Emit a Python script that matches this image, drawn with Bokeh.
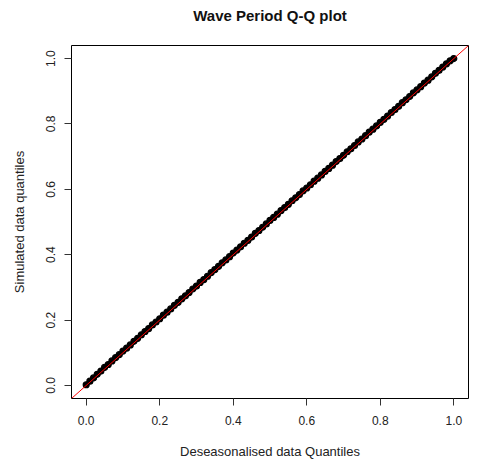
from bokeh.plotting import figure
from bokeh.models import Range1d, Slope, FixedTicker, PrintfTickFormatter, Title
from bokeh.embed import file_html
from bokeh.resources import INLINE

title_text = "Wave Period Q-Q plot"
x_label = "Deseasonalised data Quantiles"
y_label = "Simulated data quantiles"
tick_values = [0.0, 0.2, 0.4, 0.6, 0.8, 1.0]

qx = [0.000, 0.010, 0.020, 0.030, 0.040, 0.050, 0.060, 0.070, 0.080, 0.090,
      0.100, 0.110, 0.120, 0.130, 0.140, 0.150, 0.160, 0.170, 0.180, 0.190,
      0.200, 0.210, 0.220, 0.230, 0.240, 0.250, 0.260, 0.270, 0.280, 0.290,
      0.300, 0.310, 0.320, 0.330, 0.340, 0.350, 0.360, 0.370, 0.380, 0.390,
      0.400, 0.410, 0.420, 0.430, 0.440, 0.450, 0.460, 0.470, 0.480, 0.490,
      0.500, 0.510, 0.520, 0.530, 0.540, 0.550, 0.560, 0.570, 0.580, 0.590,
      0.600, 0.610, 0.620, 0.630, 0.640, 0.650, 0.660, 0.670, 0.680, 0.690,
      0.700, 0.710, 0.720, 0.730, 0.740, 0.750, 0.760, 0.770, 0.780, 0.790,
      0.800, 0.810, 0.820, 0.830, 0.840, 0.850, 0.860, 0.870, 0.880, 0.890,
      0.900, 0.910, 0.920, 0.930, 0.940, 0.950, 0.960, 0.970, 0.980, 0.990,
      1.000]
qy = [0.002, 0.013, 0.023, 0.034, 0.044, 0.055, 0.064, 0.075, 0.085, 0.094,
      0.105, 0.114, 0.124, 0.135, 0.144, 0.155, 0.165, 0.174, 0.185, 0.194,
      0.204, 0.215, 0.224, 0.234, 0.245, 0.254, 0.265, 0.274, 0.284, 0.295,
      0.304, 0.315, 0.324, 0.334, 0.345, 0.354, 0.364, 0.375, 0.384, 0.394,
      0.405, 0.414, 0.424, 0.435, 0.444, 0.454, 0.465, 0.474, 0.484, 0.494,
      0.505, 0.514, 0.524, 0.535, 0.544, 0.554, 0.565, 0.574, 0.584, 0.595,
      0.604, 0.614, 0.625, 0.634, 0.644, 0.655, 0.664, 0.674, 0.685, 0.694,
      0.704, 0.715, 0.724, 0.734, 0.745, 0.754, 0.764, 0.775, 0.784, 0.794,
      0.805, 0.814, 0.824, 0.835, 0.844, 0.854, 0.865, 0.874, 0.884, 0.895,
      0.904, 0.914, 0.925, 0.934, 0.944, 0.955, 0.964, 0.974, 0.984, 0.993,
      1.000]

FONT = "Liberation Sans"

p = figure(width=477, height=467, output_backend="svg", toolbar_location=None,
           x_range=Range1d(-0.04, 1.04), y_range=Range1d(-0.04, 1.04),
           min_border_left=71, min_border_right=9, min_border_top=45,
           min_border_bottom=69)

p.background_fill_color = "white"
p.border_fill_color = "white"
p.outline_line_color = "black"
p.outline_line_width = 1
p.grid.visible = False

for ax in (p.xaxis[0], p.yaxis[0]):
    ax.ticker = FixedTicker(ticks=tick_values)
    ax.formatter = PrintfTickFormatter(format="%.1f")
    ax.axis_line_color = None
    ax.major_tick_in = 0
    ax.major_tick_out = 7
    ax.major_tick_line_color = "#333333"
    ax.minor_tick_line_color = None
    ax.major_label_text_font = FONT
    ax.major_label_text_font_size = "12px"
    ax.major_label_text_color = "#222222"
    ax.axis_label_text_font = FONT
    ax.axis_label_text_font_size = "13px"
    ax.axis_label_text_font_style = "normal"
    ax.axis_label_text_color = "#222222"

p.xaxis.axis_label = x_label
p.yaxis.axis_label = y_label
p.xaxis.major_label_standoff = 10
p.xaxis.axis_label_standoff = 16
p.yaxis.major_label_orientation = "vertical"
p.yaxis.major_label_standoff = 9
p.yaxis.axis_label_standoff = 17

p.scatter(qx, qy, size=6, marker="circle", fill_color="black",
          line_color="black", line_width=1.2)

p.add_layout(Slope(gradient=1, y_intercept=0, line_color="red", line_width=1))

# spacer panel between frame and title (closest to frame, added first)
spacer = Title(text=" ", text_font_size="1px", standoff=19, text_color="white")
p.add_layout(spacer, "above")
main_title = Title(text=title_text, align="center", text_font=FONT,
                   text_font_size="15px", text_font_style="bold",
                   text_color="#111111", standoff=0)
p.add_layout(main_title, "above")

open("out.html", "w").write(file_html(p, INLINE))
